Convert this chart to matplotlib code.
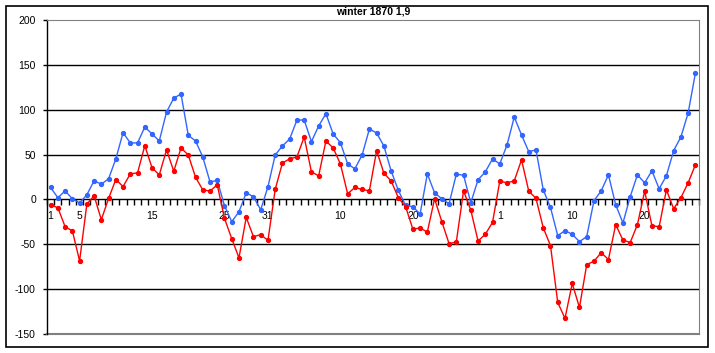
import matplotlib
matplotlib.use("Agg")
import matplotlib.pyplot as plt
from matplotlib.patches import Rectangle
import numpy as np

title = "winter 1870 1,9"

blue = [13.3, 1.9, 9.6, 0.7, -4.0, 5.2, 20.7, 17.0, 23.0, 45.2,
        74.4, 63.0, 63.0, 80.7, 73.0, 65.2, 97.4, 113.0, 117.4, 71.5,
        65.2, 47.4, 19.6, 21.1, -7.0, -24.8, -13.7, 7.4, 3.0, -11.5,
        14.1, 49.6, 59.6, 67.4, 88.5, 88.5, 64.4, 81.9, 95.6, 73.0,
        63.3, 39.6, 34.1, 49.6, 78.5, 74.1, 59.6, 31.9, 10.0, -6.7,
        -8.1, -16.3, 28.5, 7.4, 0.7, -4.8, 28.1, 27.0, -3.7, 21.9,
        30.7, 45.2, 39.6, 60.7, 91.9, 71.9, 53.3, 55.2, 10.7, -8.9,
        -40.4, -34.8, -38.9, -47.0, -41.5, -1.5, 9.6, 27.4, -5.9, -26.3,
        3.0, 27.4, 18.5, 31.9, 11.9, 26.3, 54.4, 69.6, 96.3, 140.7]

red = [-5.9, -9.3, -30.4, -35.0, -68.5, -5.2, 4.1, -22.6, 1.1, 22.2,
       14.4, 28.5, 29.6, 60.0, 35.2, 27.4, 55.2, 31.5, 57.4, 49.6,
       24.8, 10.7, 9.3, 16.3, -21.1, -43.7, -65.2, -20.0, -41.5, -39.3,
       -45.6, 11.1, 40.7, 45.2, 47.4, 69.6, 30.7, 26.3, 65.2, 57.4,
       39.6, 6.3, 13.3, 11.1, 9.6, 54.4, 29.3, 20.7, 1.9, -8.1,
       -33.0, -31.9, -36.3, 0.7, -24.8, -49.3, -47.4, 9.6, -11.9, -46.3,
       -38.9, -25.6, 20.4, 18.5, 20.7, 44.1, 9.3, 1.1, -31.5, -51.5,
       -114.8, -132.6, -93.7, -120.4, -72.6, -68.9, -59.3, -67.0, -28.1, -45.2,
       -48.1, -28.1, 9.3, -29.3, -30.4, 10.7, -10.4, 1.9, 18.5, 38.5]

label_idx = [0, 4, 14, 24, 30, 40, 50, 62, 72, 82]
label_txt = ["1", "5", "15", "25", "31", "10", "20", "1", "10", "20"]
yticks = [-150, -100, -50, 0, 50, 100, 150, 200]

plt.rcParams['font.family'] = ['Liberation Sans', 'DejaVu Sans']

W, H = 715, 353
fig = plt.figure(figsize=(W / 100, H / 100), dpi=100)
fig.patch.set_facecolor('white')

L, R, T, B = 47, 699, 20, 334
ax = fig.add_axes([L / W, 1 - B / H, (R - L) / W, (B - T) / H])

n = len(blue)
x = np.arange(n)
ax.plot(x, blue, color='#3366FF', lw=1.0, marker='o', ms=2.8, mec='#3366FF', mfc='#3366FF', zorder=4)
ax.plot(x, red, color='#FF0000', lw=1.0, marker='o', ms=2.8, mec='#FF0000', mfc='#FF0000', zorder=5)

ax.set_xlim(-0.5, n - 0.5)
ax.set_ylim(-150, 200)

for v in [150, 100, 50, -50, -100]:
    ax.axhline(v, color='black', lw=1.0, zorder=1)

ax.spines['bottom'].set_position(('data', 0))
ax.spines['bottom'].set_color('black')
ax.spines['bottom'].set_linewidth(1.0)
ax.spines['left'].set_color('black')
ax.spines['left'].set_linewidth(1.0)
ax.spines['top'].set_color('#808080')
ax.spines['right'].set_color('#808080')
ax.plot([0, 1], [0, 0], transform=ax.transAxes, color='#808080', lw=1.5, clip_on=False)

ax.set_yticks(yticks)
ax.set_yticklabels([str(v) for v in yticks])
ax.tick_params(axis='y', direction='out', length=3, width=1, pad=5, labelsize=7.5, colors='black')

ax.set_xticks(label_idx)
ax.set_xticklabels(label_txt)
ax.set_xticks(np.arange(n + 1) - 0.5, minor=True)
ax.tick_params(axis='x', which='major', length=0, pad=8, labelsize=7.5)
ax.tick_params(axis='x', which='minor', direction='out', length=4, width=1, colors='black')

fig.text(373 / W, 1 - 12 / H, title, ha='center', va='center', fontsize=7.5, fontweight='bold')

fig.add_artist(Rectangle((5.5 / W, 1 - 347 / H), (708 - 5.5) / W, (347 - 5.5) / H,
                         transform=fig.transFigure, fill=False, edgecolor='black', lw=1.2))

fig.savefig('out.png', dpi=100)
